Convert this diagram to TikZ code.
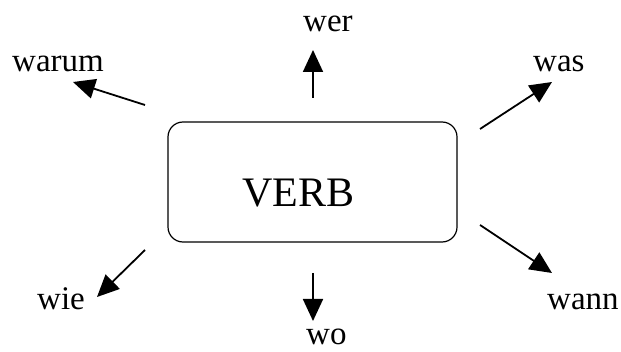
\documentclass[tikz,border=0pt]{standalone}
\usepackage{fontspec}
\setmainfont{Liberation Serif}
\usetikzlibrary{arrows.meta}
\begin{document}
\begin{tikzpicture}[x=1pt,y=-1pt,
  lbl/.style={anchor=base west,inner sep=0pt,font=\fontsize{33}{36}\selectfont},
  arr/.style={line width=1.8pt,-{Triangle[length=22pt,width=20pt]}}]
\useasboundingbox (0,0) rectangle (621,352);
\node[draw,line width=1.2pt,rounded corners=15pt,minimum width=289pt,minimum height=120pt,inner sep=0pt] (box) at (312.5,182) {};
\node[anchor=base west,inner sep=0pt,font=\fontsize{42}{46}\selectfont] (verb) at (242,207) {VERB};
\node[lbl] (warum) at (12,72) {warum};
\node[lbl] (wer) at (303,32) {wer};
\node[lbl] (was) at (533,72) {was};
\node[lbl] (wie) at (37,310) {wie};
\node[lbl] (wo) at (306,345) {wo};
\node[lbl] (wann) at (547,310) {wann};
\coordinate (t1) at (145,105); \coordinate (h1) at (73,82);
\coordinate (t2) at (313,98); \coordinate (h2) at (313,50);
\coordinate (t3) at (480,129); \coordinate (h3) at (552,82);
\coordinate (t4) at (145,250); \coordinate (h4) at (97,297);
\coordinate (t5) at (313,273); \coordinate (h5) at (313,321);
\coordinate (t6) at (480,225); \coordinate (h6) at (552,273);
\draw[arr] (t1) -- (h1);
\draw[arr] (t2) -- (h2);
\draw[arr] (t3) -- (h3);
\draw[arr] (t4) -- (h4);
\draw[arr] (t5) -- (h5);
\draw[arr] (t6) -- (h6);
\end{tikzpicture}
\end{document}
